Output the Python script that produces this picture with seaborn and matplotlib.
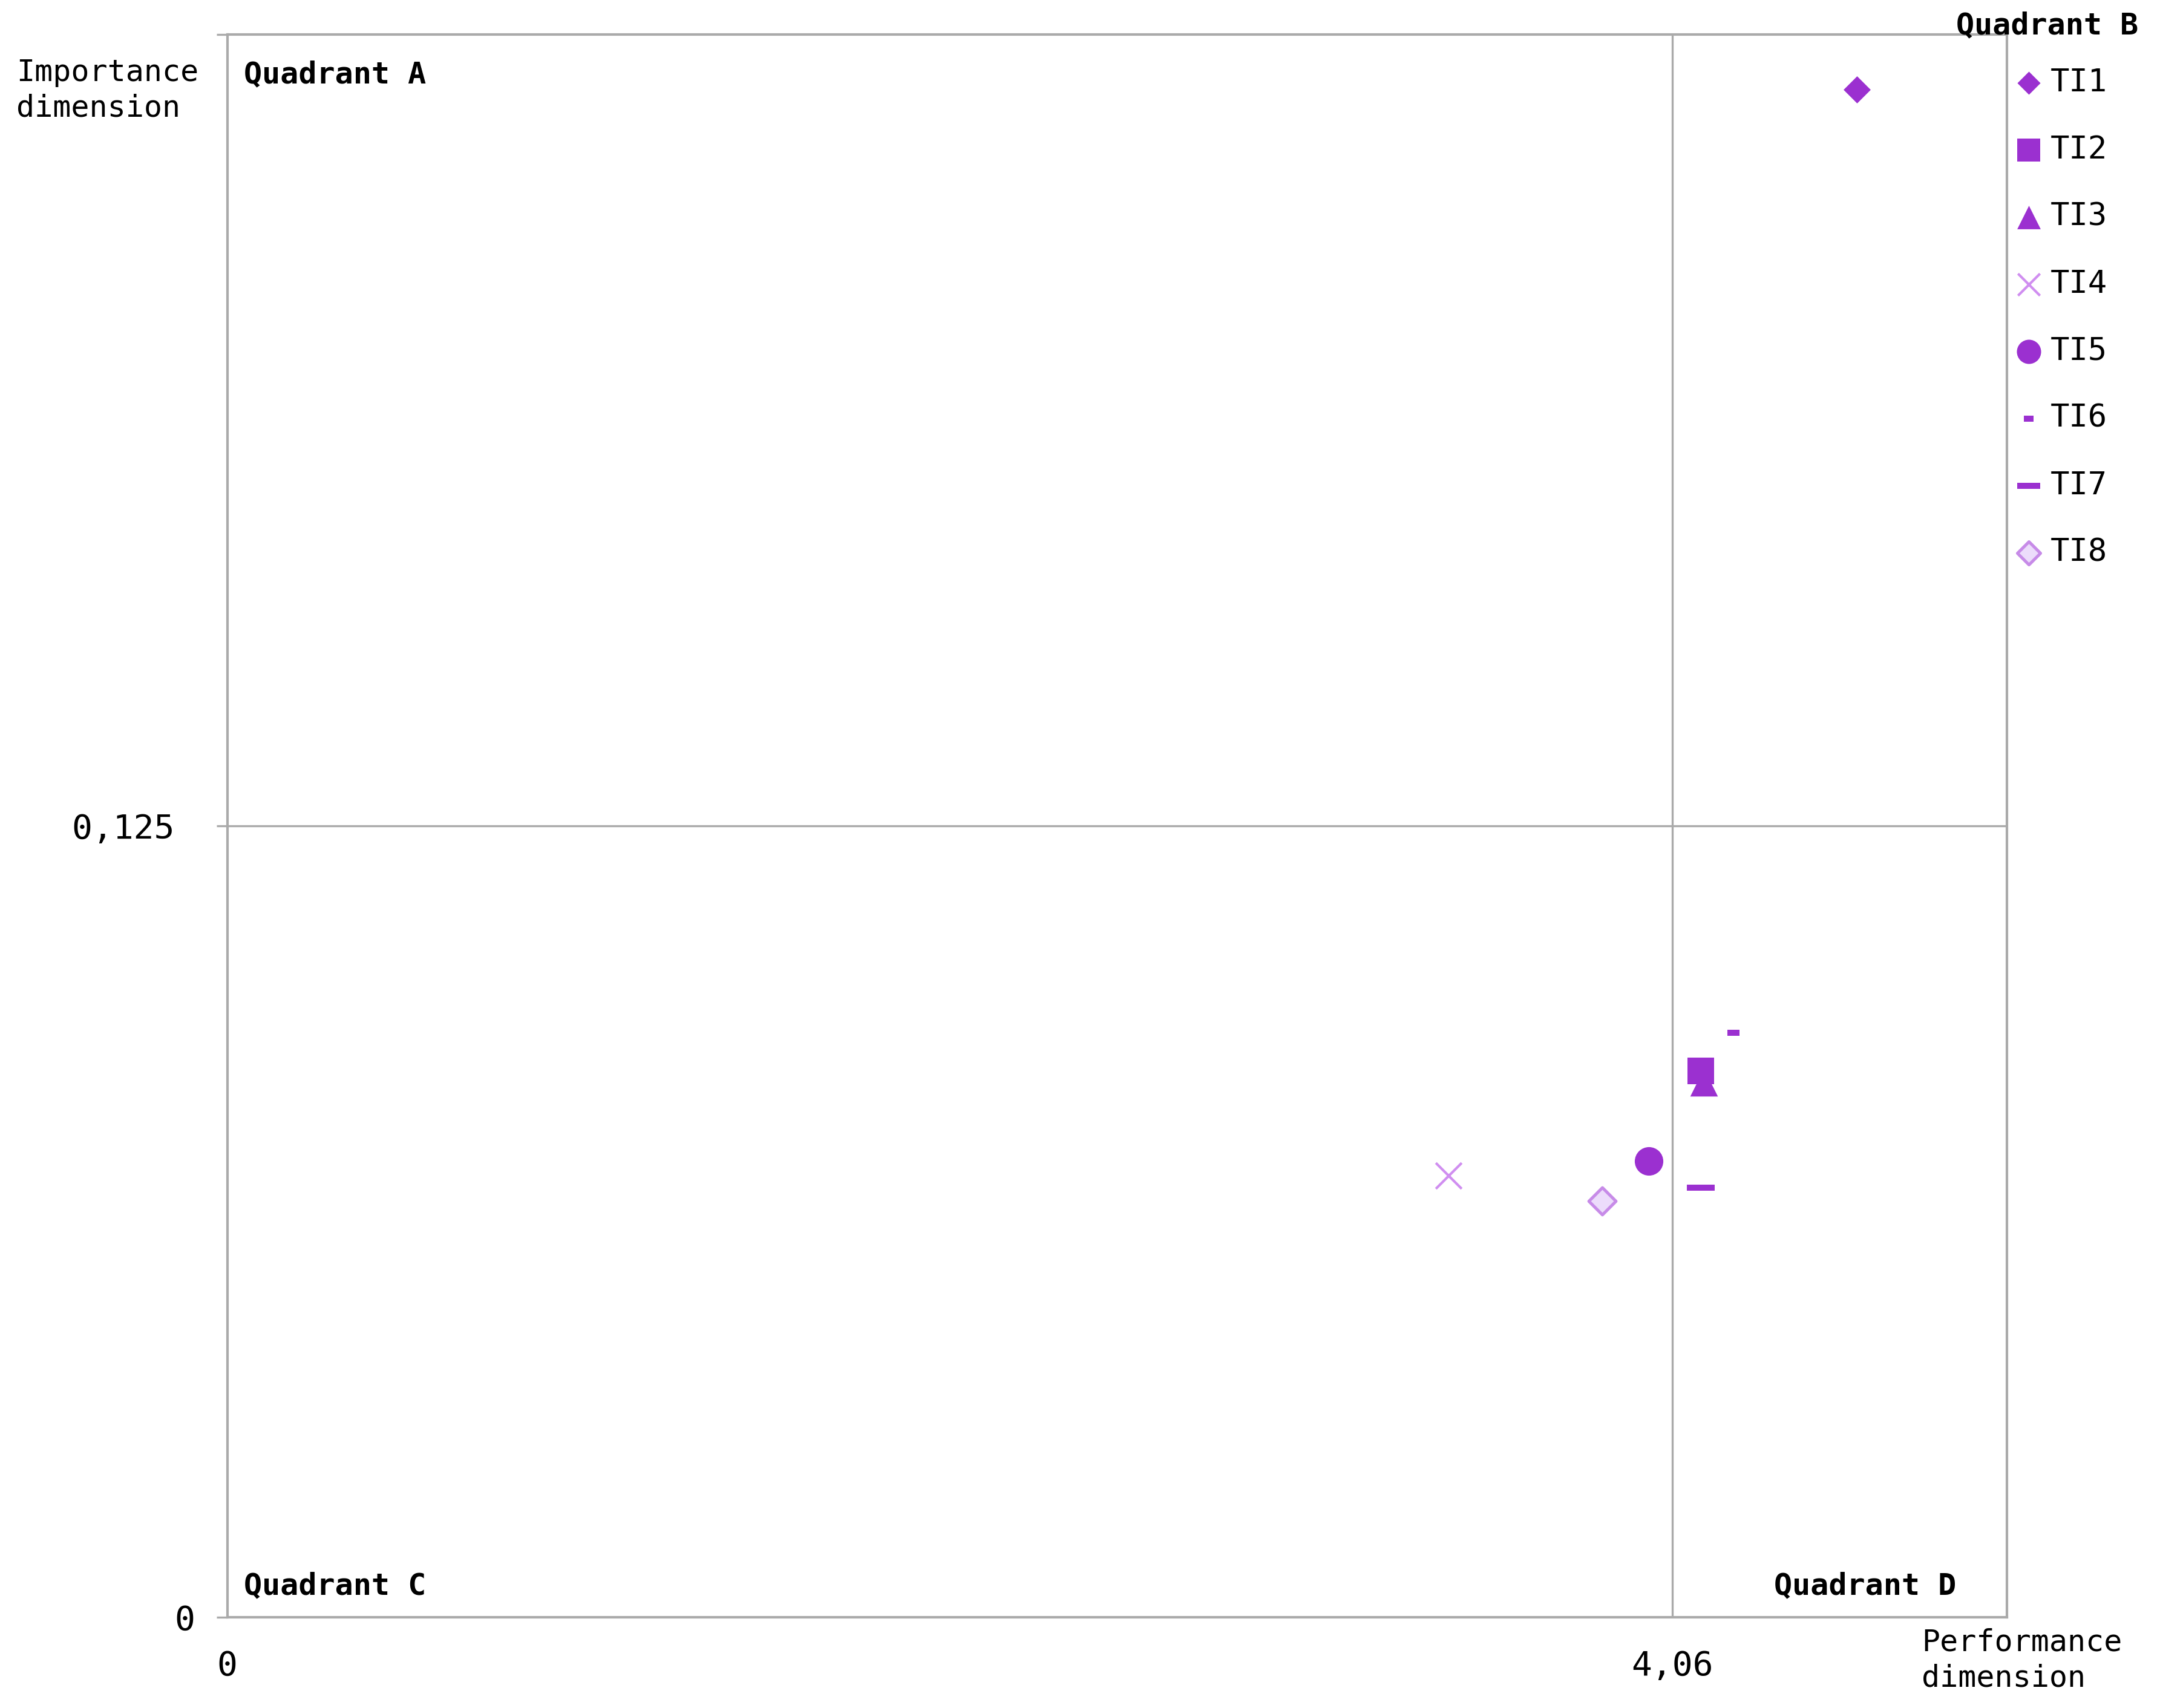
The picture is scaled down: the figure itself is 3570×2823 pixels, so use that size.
import matplotlib
matplotlib.use("Agg")
import matplotlib.pyplot as plt
import seaborn as sns
import pandas as pd

# values
items = ["TI1", "TI2", "TI3", "TI4", "TI5", "TI6", "TI7", "TI8"]
performance = [4.578, 4.139, 4.148, 3.431, 3.993, 4.231, 4.139, 3.862]
importance = [0.2413, 0.0863, 0.0845, 0.0698, 0.0721, 0.0923, 0.0679, 0.0658]
x_mid = 4.06
y_mid = 0.125
x_max = 5.0
y_max = 0.25

markers = ["D", "s", "^", "x", "o", "_", "_", "D"]
sizes = [58, 110, 120, 105, 128, 23, 117, 58]
faces = ["#9b30d0", "#9b30d0", "#9b30d0", "#d08ef0", "#9b30d0", "#9b30d0", "#9b30d0", "#ecdcfb"]
edges = ["#9b30d0", "#9b30d0", "#9b30d0", "#d08ef0", "#9b30d0", "#9b30d0", "#9b30d0", "#c78be8"]
widths = [0, 0, 0, 1.0, 0, 2.4, 2.4, 1.2]

df = pd.DataFrame({"item": items, "x": performance, "y": importance})

sns.set_style("white")
plt.rcParams["font.family"] = ["DejaVu Sans Mono"]
plt.rcParams["text.color"] = "black"
plt.rcParams["xtick.labelcolor"] = "black"
plt.rcParams["ytick.labelcolor"] = "black"

fig = plt.figure(figsize=(11.9, 9.41), dpi=300)
ax = fig.add_axes([0.1052, 0.0531, 0.824, 0.9267])

grey = "#aaaaaa"
ax.axvline(x_mid, color=grey, lw=0.8, zorder=1)
ax.axhline(y_mid, color=grey, lw=0.8, zorder=1)

for i, row in df.iterrows():
    sns.scatterplot(data=df.iloc[[i]], x="x", y="y", ax=ax, marker=markers[i],
                    s=sizes[i], color=faces[i], edgecolor=edges[i],
                    linewidth=widths[i], label=row["item"], zorder=3)

ax.set_xlim(0, x_max)
ax.set_ylim(0, y_max)
ax.set_xticks([0, x_mid])
ax.set_xticklabels(["0", "4,06"])
ax.set_yticks([0, y_mid, y_max])
ax.set_yticklabels(["0", "0,125 ", ""])
ax.tick_params(axis="x", length=0, pad=13, labelsize=13.5)
ax.tick_params(axis="y", length=4.4, width=0.8, color=grey, pad=8.5, labelsize=13.5, left=True)
ax.set_xlabel("")
ax.set_ylabel("")
for sp in ax.spines.values():
    sp.set_color(grey)
    sp.set_linewidth(1.0)

ax.text(0.0093, 0.9747, "Quadrant A", transform=ax.transAxes, fontsize=12,
        fontweight="bold", va="center", ha="left")
ax.text(0.9713, 1.0055, "Quadrant B", transform=ax.transAxes, fontsize=12,
        fontweight="bold", va="center", ha="left", clip_on=False)
ax.text(0.0093, 0.0199, "Quadrant C", transform=ax.transAxes, fontsize=12,
        fontweight="bold", va="center", ha="left")
ax.text(0.9713, 0.0199, "Quadrant D", transform=ax.transAxes, fontsize=12,
        fontweight="bold", va="center", ha="right")

fig.text(0.0076, 0.947, "Importance\ndimension", fontsize=12, va="center",
         ha="left", linespacing=1.28)
fig.text(0.8897, 0.028, "Performance\ndimension", fontsize=12, va="center",
         ha="left", linespacing=1.28)

ax.legend(loc="upper left", bbox_to_anchor=(1.005, 0.979), frameon=False,
          fontsize=12.5, handlelength=0.8, handletextpad=0.3, labelspacing=1.17,
          borderpad=0, borderaxespad=0, markerscale=0.85)

fig.savefig("out.png", dpi=300, facecolor="white")
